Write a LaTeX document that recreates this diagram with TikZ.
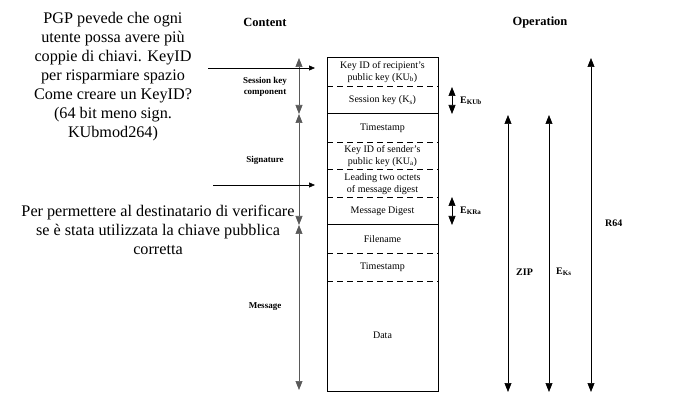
\documentclass[tikz,border=0pt]{standalone}
\usepackage{fontspec}
\setmainfont{Liberation Serif}
\usetikzlibrary{arrows.meta}
\begin{document}
\begin{tikzpicture}[x=1pt,y=-1pt,
  dblarrow/.style={{Triangle[width=7pt,length=9pt]}-{Triangle[width=7pt,length=9pt]}, line width=0.6pt},
  harrow/.style={-{Triangle[width=5pt,length=6pt]}, line width=0.6pt},
  boxline/.style={line width=1pt},
  dashline/.style={line width=0.7pt, dash pattern=on 6pt off 4pt},
  field/.style={font=\fontsize{10}{11.5}\selectfont, align=center, inner sep=0pt},
  lbl/.style={font=\bfseries\fontsize{9}{10.5}\selectfont, align=center, inner sep=0pt},
  head/.style={font=\bfseries\fontsize{12.5}{14}\selectfont, inner sep=0pt},
  note/.style={font=\fontsize{16.2}{19}\selectfont, align=center, inner sep=0pt},
  oplbl/.style={font=\bfseries\fontsize{10}{12}\selectfont, inner sep=0pt, anchor=west}]
\useasboundingbox (0,0) rectangle (686,414);

% Notes
\node[note] (n1) at (113,77) {PGP pevede che ogni\\utente possa avere più\\coppie di chiavi. KeyID\\per risparmiare spazio\\Come creare un KeyID?\\(64 bit meno sign.\\KUbmod264)};
\node[note] (n2) at (158,230) {Per permettere al destinatario di verificare\\se è stata utilizzata la chiave pubblica\\corretta};

% Headings
\node[head] (hc) at (265,22) {Content};
\node[head] (ho) at (540,22) {Operation};

% Box
\coordinate (bl) at (327,58);
\coordinate (br) at (438,391);
\draw[boxline] (bl) rectangle (br);
\draw[dashline] (327,86.5) -- (438,86.5);
\draw[boxline] (327,114) -- (438,114);
\draw[dashline] (327,142.5) -- (438,142.5);
\draw[dashline] (327,169.5) -- (438,169.5);
\draw[dashline] (327,197) -- (438,197);
\draw[boxline] (327,225) -- (438,225);
\draw[dashline] (327,253) -- (438,253);
\draw[dashline] (327,281) -- (438,281);

\node[field] (f1) at (382.5,72) {Key ID of recipient's\\public key (KU$_\mathrm{b}$)};
\node[field] (f2) at (382.5,100.5) {Session key (K$_\mathrm{s}$)};
\node[field] (f3) at (382.5,128.5) {Timestamp};
\node[field] (f4) at (382.5,156) {Key ID of sender's\\public key (KU$_\mathrm{a}$)};
\node[field] (f5) at (382.5,184) {Leading two octets\\of message digest};
\node[field] (f6) at (382.5,211) {Message Digest};
\node[field] (f7) at (382.5,239) {Filename};
\node[field] (f8) at (382.5,267) {Timestamp};
\node[field] (f9) at (382.5,335) {Data};

% Content arrows
\coordinate (c0) at (299,58);
\coordinate (c1) at (299,114);
\coordinate (c2) at (299,225);
\coordinate (c3) at (299,390);
\draw[dblarrow, gray!70!black] (c0) -- (c1);
\draw[dblarrow, gray!70!black] (c1) -- (c2);
\draw[dblarrow, gray!70!black] (c2) -- (c3);
\node[lbl] (l1) at (265,87) {Session key\\component};
\node[lbl] (l2) at (265,160) {Signature};
\node[lbl] (l3) at (265,307) {Message};

% Pointer arrows
\coordinate (p1s) at (208,68);
\coordinate (p1e) at (315,68);
\coordinate (p2s) at (213,185);
\coordinate (p2e) at (315,185);
\draw[harrow] (p1s) -- (p1e);
\draw[harrow] (p2s) -- (p2e);

% Encryption arrows
\coordinate (e1a) at (452,87);
\coordinate (e1b) at (452,114);
\coordinate (e2a) at (452,197);
\coordinate (e2b) at (452,225);
\draw[dblarrow] (e1a) -- (e1b);
\draw[dblarrow] (e2a) -- (e2b);
\node[oplbl] (o1) at (460,101) {E$_{\mathbf{KUb}}$};
\node[oplbl] (o2) at (460,211) {E$_{\mathbf{KRa}}$};

% Operation arrows
\coordinate (z1) at (508,115);
\coordinate (z2) at (508,392);
\coordinate (k1) at (549,115);
\coordinate (k2) at (549,392);
\coordinate (r1) at (591,58);
\coordinate (r2) at (591,392);
\draw[dblarrow] (z1) -- (z2);
\draw[dblarrow] (k1) -- (k2);
\draw[dblarrow] (r1) -- (r2);
\node[oplbl] (o3) at (516,272) {ZIP};
\node[oplbl] (o4) at (556,272) {E$_{\mathbf{Ks}}$};
\node[oplbl] (o5) at (605,223) {R64};
\end{tikzpicture}
\end{document}
